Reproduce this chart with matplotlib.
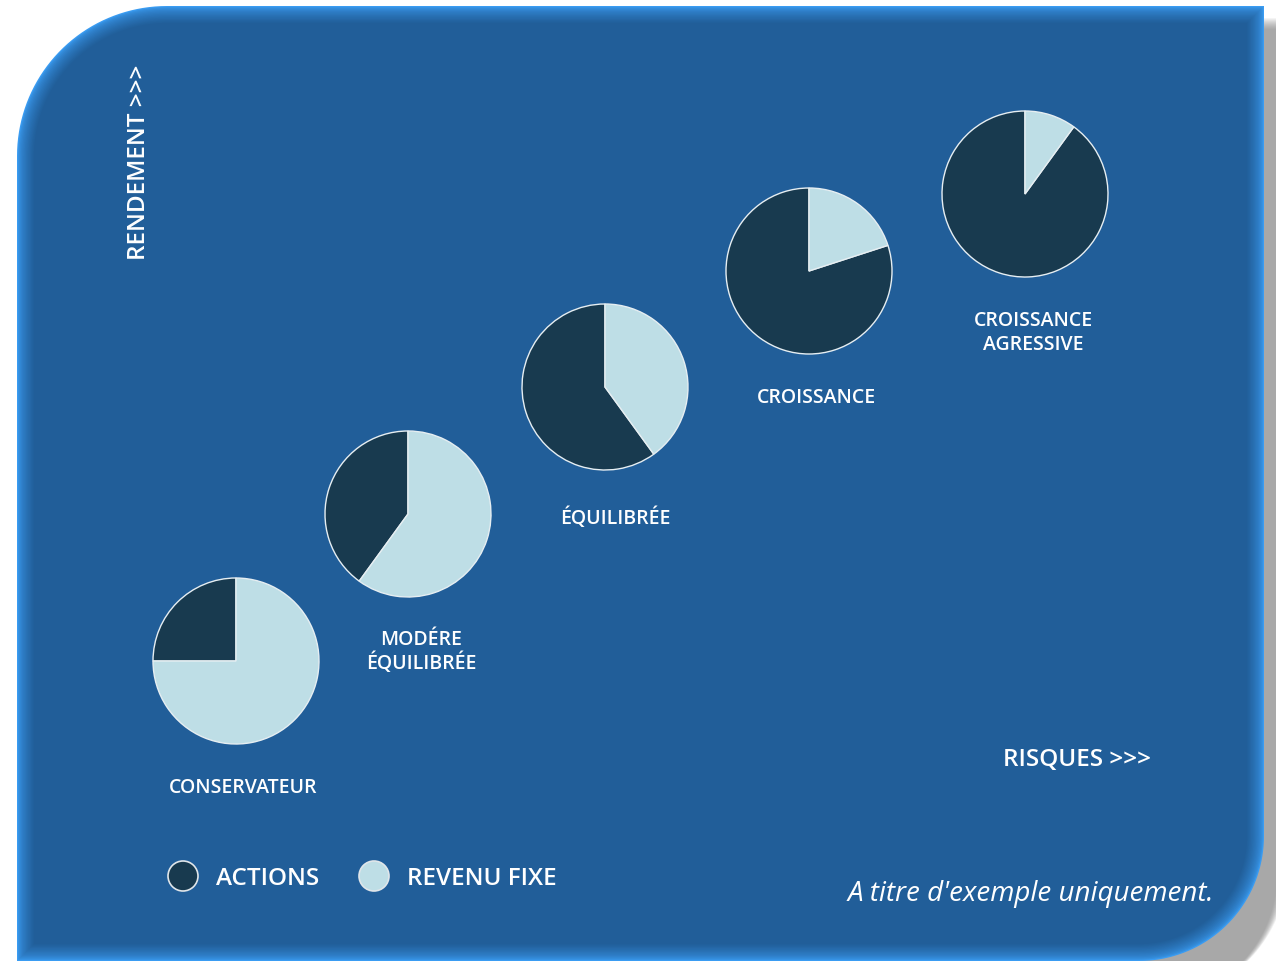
import numpy as np
import matplotlib.pyplot as plt
import matplotlib.colors as mcolors
from matplotlib.patches import Polygon, Circle

plt.rcParams['font.family'] = ['Open Sans', 'DejaVu Sans']
plt.rcParams['font.weight'] = 600

# --- données ---
profils = ['CONSERVATEUR', 'MODÉRE\nÉQUILIBRÉE', 'ÉQUILIBRÉE', 'CROISSANCE', 'CROISSANCE\nAGRESSIVE']
actions = [25, 40, 60, 80, 90]
revenu_fixe = [75, 60, 40, 20, 10]
series = ['ACTIONS', 'REVENU FIXE']

# --- mise en page (pixels, origine en haut à gauche) ---
W, H = 1276, 962
centres = [(236, 662), (408, 515), (605, 388), (809, 272), (1025, 195)]
pos_labels = [(243, 788), (421, 652), (615, 518), (816, 398), (1033, 333)]
RAYON = 83

FOND = '#215e99'
BORD = '#3a9cf2'
FONCE = '#183a4f'
CLAIR = '#bedee6'


def forme(x0, x1, y0, y1, r_hg, r_bd, n=40):
    """rectangle avec coins arrondis en haut à gauche et en bas à droite (y vers le haut)"""
    pts = [(x1, y1), (x1, y0 + r_bd)]
    a = np.linspace(0, -np.pi / 2, n)
    pts += list(zip(x1 - r_bd + r_bd * np.cos(a), y0 + r_bd + r_bd * np.sin(a)))
    pts += [(x0, y0), (x0, y1 - r_hg)]
    a = np.linspace(np.pi, np.pi / 2, n)
    pts += list(zip(x0 + r_hg + r_hg * np.cos(a), y1 - r_hg + r_hg * np.sin(a)))
    return np.array(pts)


fig = plt.figure(figsize=(W / 100, H / 100), dpi=100)
ax = fig.add_axes([0, 0, 1, 1])

# ombre
for k in range(12):
    e = 12 - k
    ax.add_patch(Polygon(forme(17 + 12 - e, 1264 + 12 + e, -40, H - 7 - 24 + e, 150, 125 + e),
                         closed=True, fc='#7a7a7a', ec='none', alpha=0.08, zorder=0))

# fond avec biseau
c_bord = np.array(mcolors.to_rgb(BORD))
c_fond = np.array(mcolors.to_rgb(FOND))
n = 14
for i in range(n):
    d = i * 1.3
    t = (i / (n - 1)) ** 0.6
    col = c_bord * (1 - t) + c_fond * t
    ax.add_patch(Polygon(forme(17 + d, 1264 - d, 0 + d, H - 7 - d, 150 - d, 125 - d),
                         closed=True, fc=col, ec='none', zorder=1))

# camemberts
for (cx, cy), a, f in zip(centres, actions, revenu_fixe):
    wedges, _ = ax.pie([a, f], colors=[FONCE, CLAIR], startangle=90, counterclock=True,
                       center=(cx, H - cy), radius=RAYON,
                       wedgeprops=dict(edgecolor='#e6eef2', linewidth=1.0))
    for w in wedges:
        w.set_zorder(3)

for (lx, ly), lab in zip(pos_labels, profils):
    ax.text(lx, H - ly, lab, color='white', fontsize=14, ha='center', va='center',
            linespacing=1.2, zorder=4)

# axes
ax.text(139, H - 162, 'RENDEMENT >>>', color='white', fontsize=17.5, rotation=90,
        ha='center', va='center', zorder=4)
ax.text(1077, H - 760, 'RISQUES >>>', color='white', fontsize=17.5,
        ha='center', va='center', zorder=4)

# légende
for (x, col), lab, tx in zip([(183, FONCE), (374, CLAIR)], series, [216, 407]):
    ax.add_patch(Circle((x, H - 877), 15, fc=col, ec='#e0e6ea', lw=1.2, zorder=4))
    ax.text(tx, H - 879, lab, color='white', fontsize=17.5, ha='left', va='center', zorder=4)

ax.text(1214, H - 894, "A titre d'exemple uniquement.", color='white', fontsize=20,
        style='italic', fontweight='normal', ha='right', va='center', zorder=4)

ax.set_xlim(0, W)
ax.set_ylim(0, H)
ax.set_aspect('equal')
ax.axis('off')

fig.savefig('out.png', dpi=100, facecolor='white')
